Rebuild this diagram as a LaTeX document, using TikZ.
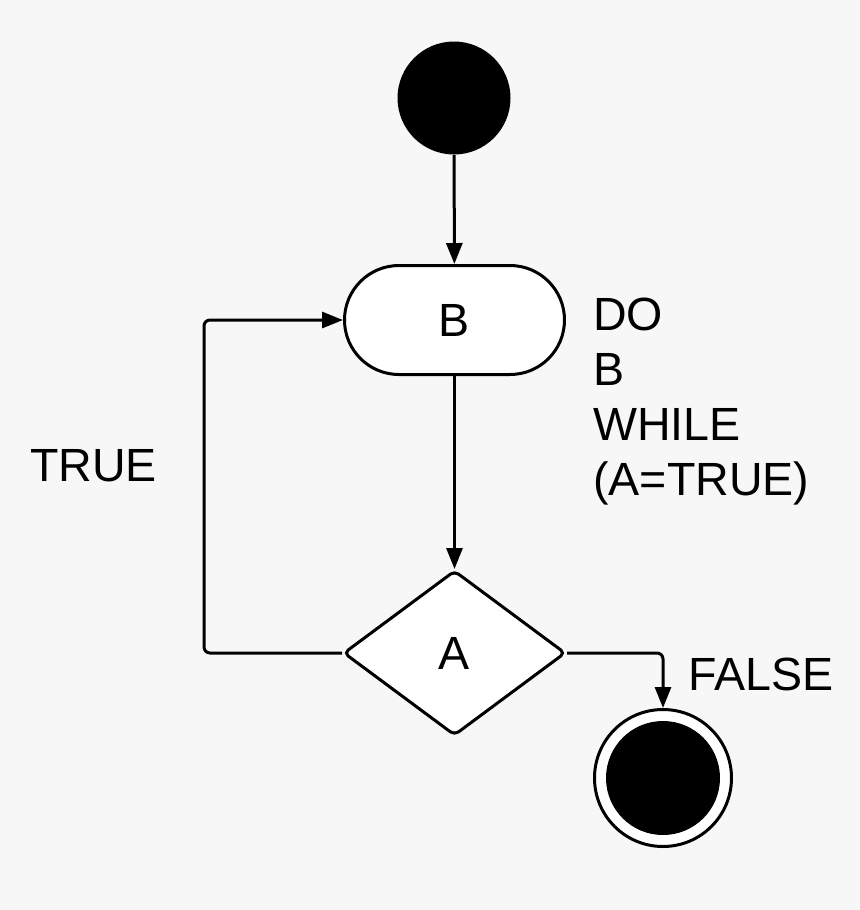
\documentclass[tikz,border=0pt]{standalone}
\usepackage{fontspec}
\setmainfont{Liberation Sans}
\usetikzlibrary{arrows.meta,shapes.geometric}
\definecolor{bggray}{RGB}{247,247,247}
\tikzset{
  flow/.style={line width=0.06cm,-{Triangle[length=0.42cm,width=0.32cm]}},
  lbl/.style={inner sep=0,font=\fontsize{26.5}{31.3}\selectfont},
  activity/.style={draw,fill=white,line width=0.06cm,rounded corners=1.09cm,minimum width=4.4cm,minimum height=2.18cm,inner sep=0,lbl},
  decision/.style={diamond,draw,fill=white,line width=0.06cm,rounded corners=0.1cm,minimum width=4.44cm,minimum height=3.3cm,inner sep=0,lbl}
}
\begin{document}
\begin{tikzpicture}
    \fill[bggray] (0,0) rectangle (17.2,-18.2);
    \useasboundingbox (0,0) rectangle (17.2,-18.2);
    \node[circle,fill=black,minimum size=2.26cm,inner sep=0] (start) at (9.08,-1.96) {};
    \node[activity] (doB) at (9.09,-6.4) {B};
    \node[decision] (testA) at (9.09,-13.06) {A};
    \node[circle,draw,fill=white,line width=0.06cm,minimum size=2.74cm,inner sep=0] (final) at (13.26,-15.56) {};
    \fill[black] (final) circle (1.14cm);
    \coordinate (loopx) at (4.08,0);
    \draw[flow] (start) -- (doB);
    \draw[flow] (doB) -- (testA);
    \draw[flow,rounded corners=0.12cm] (testA.west) -- (testA.west -| loopx) |- (doB.west);
    \draw[flow,rounded corners=0.12cm] (testA.east) -| (final.north);
    \node[lbl,align=left,anchor=base west] (loopnote) at (11.86,-9.9) {DO\\B\\WHILE\\(A=TRUE)};
    \node[lbl,anchor=base] (truelbl) at (1.87,-9.62) {TRUE};
    \node[lbl,anchor=base west] (falselbl) at (13.76,-13.8) {FALSE};
  \end{tikzpicture}
\end{document}
